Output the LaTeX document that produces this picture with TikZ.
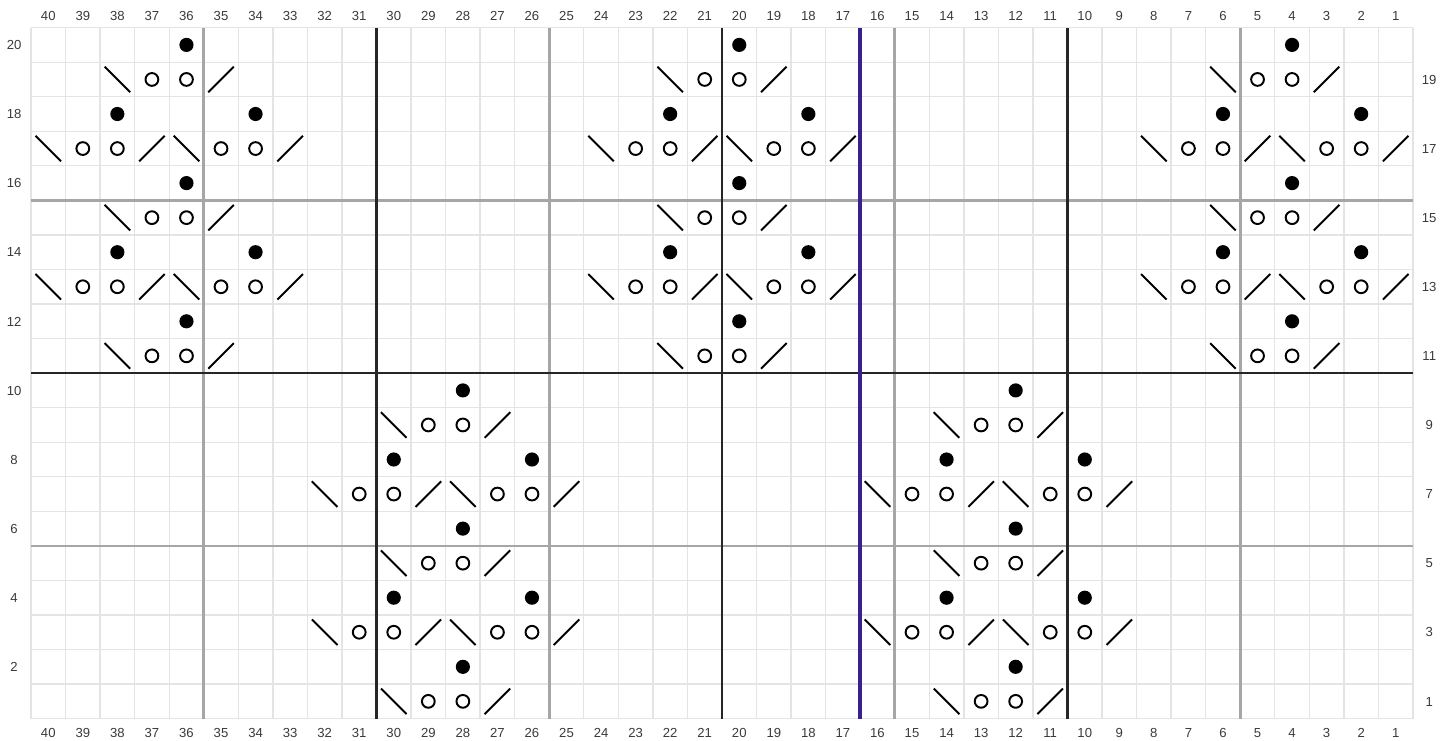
\documentclass[tikz,border=0pt]{standalone}
\usepackage{fontspec}
\setmainfont{Liberation Sans}
\usepackage{xcolor}
\usepackage{tikz}
\definecolor{gridgray}{HTML}{E4E4E4}
\definecolor{fivegray}{HTML}{A6A6A6}
\definecolor{repeatline}{HTML}{3A1F8E}
\definecolor{labelgray}{HTML}{3A3A3A}
\tikzset{
  gridline/.style={draw=gridgray, line width=1.1pt},
  fiveline/.style={draw=fivegray, line width=2.1pt},
  tenline/.style={draw=black!85, line width=2.1pt},
  repline/.style={draw=repeatline, line width=3.6pt},
  numlabel/.style={font=\fontsize{10.8}{12}\selectfont, text=labelgray, inner sep=0pt, anchor=base},
  bobble/.style={fill=black},
  yarnover/.style={draw=black, line width=1.6pt},
  decrease/.style={draw=black, line width=1.6pt}
}

\begin{document}
\begin{tikzpicture}
  \useasboundingbox (-0.897,-0.62) rectangle (41.158,20.80);

  % chart grid
  \draw[gridline] (0,0) grid (40,20);
  \foreach \k in {5,15,25,35} \draw[fiveline] (\k,0) -- (\k,20);
  \foreach \k in {5,15} \draw[fiveline] (0,\k) -- (40,\k);
  \foreach \k in {10,20,30} \draw[tenline] (\k,0) -- (\k,20);
  \draw[tenline] (0,10) -- (40,10);
  \draw[repline] (24,0) -- (24,20);

  % stitch numbers
  \foreach \c in {1,...,40} {
    \node[numlabel] (top-\c) at ({40.5-\c},20.214) {\c};
    \node[numlabel] (bot-\c) at ({40.5-\c},-0.556) {\c};
  }
  \foreach \r in {2,4,...,20} \node[numlabel] (left-\r) at (-0.49,\r-0.636) {\r};
  \foreach \r in {1,3,...,19} \node[numlabel] (right-\r) at (40.47,\r-0.636) {\r};

  % motifs: centre stitch / first row
  \foreach \m/\b in {36/10,20/10,4/10,28/0,12/0} {
    % bobbles
    \foreach \dc/\dr in {0/10,2/8,-2/8,0/6,2/4,-2/4,0/2}
      \fill[bobble] ({40.5-\m-\dc},{\b+\dr-0.5}) circle (0.205);
    % yarn overs
    \foreach \dr in {1,5,9} {
      \foreach \dc in {1,0}
        \draw[yarnover] ({40.5-\m-\dc},{\b+\dr-0.5}) circle (0.185);
      \draw[decrease] ({40.5-\m-2-0.37},{\b+\dr-0.5+0.37}) -- ++(0.74,-0.74);
      \draw[decrease] ({40.5-\m+1-0.37},{\b+\dr-0.5-0.37}) -- ++(0.74,0.74);
    }
    \foreach \dr in {3,7} {
      \foreach \dc in {3,2,-1,-2}
        \draw[yarnover] ({40.5-\m-\dc},{\b+\dr-0.5}) circle (0.185);
      \foreach \dc in {4,0}
        \draw[decrease] ({40.5-\m-\dc-0.37},{\b+\dr-0.5+0.37}) -- ++(0.74,-0.74);
      \foreach \dc in {1,-3}
        \draw[decrease] ({40.5-\m-\dc-0.37},{\b+\dr-0.5-0.37}) -- ++(0.74,0.74);
    }
  }
\end{tikzpicture}
\end{document}
